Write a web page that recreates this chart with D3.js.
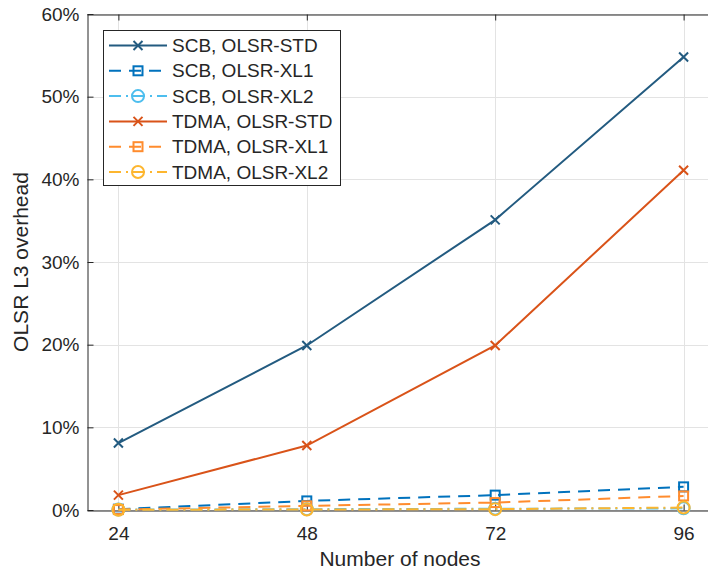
<!DOCTYPE html>
<html>
<head>
<meta charset="utf-8">
<script src="https://cdn.jsdelivr.net/npm/d3@7"></script>
<style>
  html, body { margin: 0; padding: 0; background: #fff; }
  svg { display: block; font-family: "Liberation Sans", Arial, Helvetica, sans-serif; }
</style>
</head>
<body>
<svg id="chart" width="708" height="573"></svg>
<script>
// Network sizes on the x axis
const nodes = [24, 48, 72, 96];

// OLSR layer-3 overhead, as a fraction of capacity
const scbStd   = [0.081, 0.199, 0.351, 0.548];
const scbXl1   = [0.001, 0.011, 0.018, 0.028];
const scbXl2   = [0.0005, 0.001, 0.0015, 0.002];
const tdmaStd  = [0.018, 0.078, 0.199, 0.411];
const tdmaXl1  = [0.0005, 0.005, 0.009, 0.017];
const tdmaXl2  = [0.0003, 0.0006, 0.001, 0.003];

const seriesNames = [
  "SCB, OLSR-STD", "SCB, OLSR-XL1", "SCB, OLSR-XL2",
  "TDMA, OLSR-STD", "TDMA, OLSR-XL1", "TDMA, OLSR-XL2"
];
const seriesValues = [scbStd, scbXl1, scbXl2, tdmaStd, tdmaXl1, tdmaXl2];

const yTicks = [0, 0.1, 0.2, 0.3, 0.4, 0.5, 0.6];
const xLabel = "Number of nodes";
const yLabel = "OLSR L3 overhead";

// Visual style per series
const styles = [
  { color: "#235b80", dash: null,          marker: "x" },
  { color: "#0072bd", dash: "12,8",        marker: "square" },
  { color: "#4dbeee", dash: "12,5,2,5",    marker: "circle" },
  { color: "#d95319", dash: null,          marker: "x" },
  { color: "#ff8c2e", dash: "12,8",        marker: "square" },
  { color: "#fdb62f", dash: "12,5,2,5",    marker: "circle" }
];

const svg = d3.select("#chart");
const plotLeft = 87, plotRight = 715, plotTop = 14, plotBottom = 510;
const ink = "#262626";

const x = d3.scaleLinear().domain([20, 100]).range([plotLeft, plotRight]);
const y = d3.scaleLinear().domain([0, 0.6]).range([plotBottom, plotTop]);

// grid
const grid = svg.append("g").attr("stroke", "#e3e3e3").attr("stroke-width", 1);
nodes.forEach(n => grid.append("line")
  .attr("x1", Math.round(x(n)) + 0.5).attr("x2", Math.round(x(n)) + 0.5)
  .attr("y1", plotTop).attr("y2", plotBottom));
yTicks.forEach(t => grid.append("line")
  .attr("x1", plotLeft).attr("x2", plotRight)
  .attr("y1", Math.round(y(t)) + 0.5).attr("y2", Math.round(y(t)) + 0.5));

// axes (inward ticks)
const fmt = d => Math.round(d * 100) + "%";
const yAxis = svg.append("g").attr("transform", `translate(${plotLeft + 0.5},0)`)
  .call(d3.axisLeft(y).tickValues(yTicks).tickFormat(fmt).tickSizeInner(-6).tickSizeOuter(0).tickPadding(8));
const xAxis = svg.append("g").attr("transform", `translate(0,${plotBottom + 0.5})`)
  .call(d3.axisBottom(x).tickValues(nodes).tickSizeInner(-6).tickSizeOuter(0).tickPadding(16));
const xTop = svg.append("g").attr("transform", `translate(0,${plotTop + 0.5})`)
  .call(d3.axisTop(x).tickValues(nodes).tickFormat("").tickSizeInner(-6).tickSizeOuter(0));

[yAxis, xAxis, xTop].forEach(g => {
  g.selectAll("path").attr("stroke", ink).attr("stroke-width", 1);
  g.selectAll("line").attr("stroke", ink).attr("stroke-width", 1);
  g.selectAll("text").attr("fill", ink).attr("font-size", 19)
    .attr("font-family", "'Liberation Sans', Arial, Helvetica, sans-serif");
});
xAxis.selectAll("text").attr("dy", "0.71em");

// axis titles
svg.append("text").attr("x", (plotLeft + plotRight) / 2 - 1).attr("y", 566)
  .attr("text-anchor", "middle").attr("font-size", 21).attr("fill", ink).text(xLabel);
svg.append("text").attr("transform", `translate(28,${(plotTop + plotBottom) / 2}) rotate(-90)`)
  .attr("text-anchor", "middle").attr("font-size", 21).attr("fill", ink).text(yLabel);

// marker drawing
function drawMarker(g, kind, cx, cy, color) {
  if (kind === "x") {
    const s = 4.5;
    g.append("path").attr("d", `M${cx - s},${cy - s}L${cx + s},${cy + s}M${cx - s},${cy + s}L${cx + s},${cy - s}`)
      .attr("stroke", color).attr("stroke-width", 2).attr("fill", "none");
  } else if (kind === "square") {
    g.append("rect").attr("x", cx - 4.5).attr("y", cy - 4.5).attr("width", 9).attr("height", 9)
      .attr("stroke", color).attr("stroke-width", 2).attr("fill", "none");
  } else {
    g.append("circle").attr("cx", cx).attr("cy", cy).attr("r", 6)
      .attr("stroke", color).attr("stroke-width", 2).attr("fill", "none");
  }
}

// series lines + markers
const line = d3.line().x((d, i) => x(nodes[i])).y(d => y(d));
const plot = svg.append("g");
seriesValues.forEach((vals, si) => {
  const st = styles[si];
  plot.append("path").datum(vals).attr("d", line)
    .attr("fill", "none").attr("stroke", st.color).attr("stroke-width", 2)
    .attr("stroke-dasharray", st.dash);
  vals.forEach((v, i) => drawMarker(plot, st.marker, x(nodes[i]), y(v), st.color));
});

// legend
const lg = svg.append("g");
lg.append("rect").attr("x", 103.5).attr("y", 30.5).attr("width", 237).attr("height", 155)
  .attr("fill", "#fff").attr("stroke", ink).attr("stroke-width", 1);
seriesNames.forEach((name, i) => {
  const st = styles[i];
  const ry = 45.5 + i * 25.3;
  lg.append("line").attr("x1", 109).attr("x2", 167).attr("y1", ry).attr("y2", ry)
    .attr("stroke", st.color).attr("stroke-width", 2).attr("stroke-dasharray", st.dash);
  drawMarker(lg, st.marker, 138, ry, st.color);
  lg.append("text").attr("x", 172).attr("y", ry).attr("dy", "0.35em")
    .attr("font-size", 19).attr("fill", ink).text(name);
});
</script>
</body>
</html>
